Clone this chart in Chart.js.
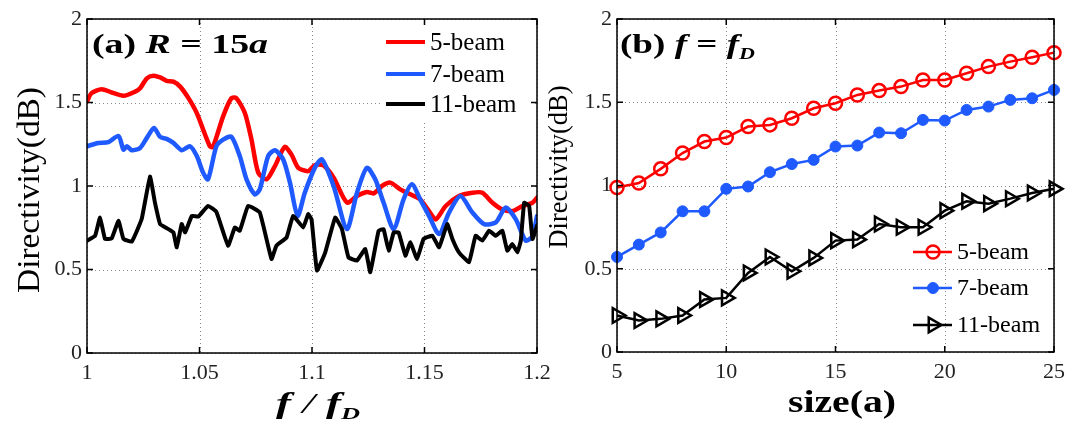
<!DOCTYPE html>
<html>
<head>
<meta charset="utf-8">
<script src="https://cdn.jsdelivr.net/npm/chart.js@4.4.0/dist/chart.umd.min.js"></script>
<style>
  html, body { margin: 0; padding: 0; background: #fff; }
  #wrap { position: relative; width: 1077px; height: 427px; overflow: hidden; }
  canvas { position: absolute; top: 0; }
  #chartA { left: 0; }
  #chartB { left: 545px; }
</style>
</head>
<body>
<div id="wrap">
  <canvas id="chartA" width="560" height="427" style="width:560px;height:427px"></canvas>
  <canvas id="chartB" width="532" height="427" style="width:532px;height:427px"></canvas>
</div>
<script>
// ---- panel (a): directivity vs f/fD, R = 15a ----
const fRed = [1.000, 1.002, 1.0065, 1.011, 1.0162, 1.0214, 1.0236, 1.0266, 1.0295, 1.0325, 1.0354, 1.0384, 1.0414, 1.0451, 1.0488, 1.0546, 1.056, 1.0605, 1.0642, 1.0664, 1.0702, 1.0731, 1.0761, 1.0798, 1.0835, 1.0879, 1.0909, 1.0939, 1.0983, 1.1013, 1.1051, 1.1096, 1.1155, 1.12, 1.1244, 1.1274, 1.1311, 1.1348, 1.1392, 1.1437, 1.1481, 1.152, 1.155, 1.1594, 1.1653, 1.1713, 1.1757, 1.1802, 1.1846, 1.1891, 1.1935, 1.198, 1.2];
const dRed = [1.506, 1.556, 1.58, 1.56, 1.54, 1.565, 1.585, 1.645, 1.66, 1.65, 1.63, 1.625, 1.595, 1.526, 1.436, 1.238, 1.234, 1.417, 1.526, 1.526, 1.436, 1.278, 1.08, 1.04, 1.119, 1.234, 1.188, 1.109, 1.089, 1.125, 1.123, 1.05, 0.901, 0.94, 0.964, 0.956, 1.0, 1.02, 0.98, 0.95, 0.92, 0.85, 0.80, 0.88, 0.94, 0.96, 0.96, 0.90, 0.86, 0.85, 0.88, 0.90, 0.93];

const fBlue = [1.000, 1.005, 1.0095, 1.014, 1.0162, 1.0177, 1.0199, 1.0236, 1.0266, 1.0298, 1.0325, 1.0354, 1.0384, 1.0421, 1.0458, 1.0488, 1.0516, 1.0538, 1.0575, 1.0605, 1.0642, 1.0679, 1.0709, 1.0746, 1.0768, 1.0805, 1.0835, 1.0872, 1.0902, 1.0936, 1.0968, 1.1013, 1.1044, 1.1096, 1.1155, 1.12, 1.1244, 1.1281, 1.1318, 1.1363, 1.1407, 1.1444, 1.1481, 1.152, 1.1565, 1.1609, 1.166, 1.1713, 1.1765, 1.1817, 1.1861, 1.1906, 1.195, 1.198, 1.2];
const dBlue = [1.238, 1.258, 1.262, 1.30, 1.218, 1.238, 1.214, 1.228, 1.288, 1.347, 1.294, 1.282, 1.258, 1.214, 1.238, 1.179, 1.08, 1.04, 1.238, 1.278, 1.294, 1.179, 1.04, 0.95, 0.98, 1.179, 1.214, 1.159, 1.02, 0.821, 0.96, 1.11, 1.159, 1.0, 0.742, 0.96, 1.109, 1.04, 0.901, 0.742, 0.92, 1.01, 0.92, 0.821, 0.712, 0.841, 0.94, 0.841, 0.772, 0.782, 0.871, 0.80, 0.673, 0.70, 0.82];

const fBlack = [1.000, 1.0036, 1.0058, 1.008, 1.011, 1.014, 1.0162, 1.0199, 1.0243, 1.028, 1.0302, 1.0325, 1.0362, 1.0384, 1.0399, 1.0421, 1.0436, 1.0466, 1.0495, 1.0538, 1.0575, 1.0627, 1.0657, 1.0679, 1.0716, 1.0768, 1.082, 1.0842, 1.0887, 1.0916, 1.0961, 1.0983, 1.0998, 1.1022, 1.1059, 1.1103, 1.1133, 1.1162, 1.12, 1.1237, 1.1259, 1.1296, 1.1318, 1.1341, 1.1363, 1.1385, 1.1415, 1.1437, 1.1467, 1.1496, 1.1535, 1.1565, 1.1601, 1.1624, 1.1653, 1.1698, 1.1727, 1.1757, 1.1787, 1.1817, 1.1846, 1.1868, 1.189, 1.1913, 1.1928, 1.1943, 1.1965, 1.198, 1.2];
const dBlack = [0.673, 0.702, 0.811, 0.683, 0.687, 0.792, 0.683, 0.667, 0.802, 1.056, 0.90, 0.772, 0.742, 0.722, 0.633, 0.772, 0.722, 0.821, 0.817, 0.881, 0.845, 0.643, 0.752, 0.732, 0.881, 0.841, 0.563, 0.643, 0.692, 0.821, 0.752, 0.831, 0.80, 0.494, 0.603, 0.811, 0.742, 0.573, 0.554, 0.623, 0.484, 0.732, 0.742, 0.613, 0.722, 0.722, 0.583, 0.663, 0.563, 0.683, 0.702, 0.633, 0.772, 0.683, 0.603, 0.544, 0.702, 0.673, 0.732, 0.702, 0.732, 0.613, 0.653, 0.603, 0.673, 0.90, 0.881, 0.683, 0.762];

// ---- panel (b): directivity vs size at f = fD ----
const sizes = [5, 6, 7, 8, 9, 10, 11, 12, 13, 14, 15, 16, 17, 18, 19, 20, 21, 22, 23, 24, 25];
const size5 = [0.988, 1.015, 1.10, 1.195, 1.264, 1.288, 1.354, 1.364, 1.404, 1.464, 1.494, 1.544, 1.570, 1.594, 1.634, 1.634, 1.674, 1.714, 1.744, 1.77, 1.798];
const size7 = [0.571, 0.645, 0.718, 0.845, 0.845, 0.98, 0.994, 1.08, 1.129, 1.154, 1.234, 1.24, 1.318, 1.314, 1.394, 1.39, 1.454, 1.474, 1.514, 1.524, 1.574];
const size11 = [0.219, 0.189, 0.199, 0.219, 0.315, 0.325, 0.475, 0.571, 0.485, 0.565, 0.669, 0.675, 0.769, 0.749, 0.749, 0.849, 0.905, 0.891, 0.921, 0.955, 0.98];

const seriesNames = ["5-beam", "7-beam", "11-beam"];
const yTicks = [0, 0.5, 1, 1.5, 2];

const RED = "#ff0000";
const BLUE = "rgb(30, 90, 255)";
const BLACK = "#000000";
const serif = '"Liberation Serif", "Times New Roman", serif';

function pts(xs, ys) {
  return xs.map((x, i) => ({ x: x, y: ys[i] }));
}

// draw a row of text pieces, squeezed/stretched to a target width
function fitText(ctx, parts, x, y, width) {
  ctx.save();
  let total = 0;
  for (const p of parts) { ctx.font = p[1]; total += ctx.measureText(p[0]).width; }
  ctx.translate(x, y);
  ctx.scale(width / total, 1);
  ctx.textBaseline = "alphabetic";
  ctx.textAlign = "left";
  let cx = 0;
  for (const p of parts) {
    ctx.font = p[1];
    ctx.fillText(p[0], cx, p[2] || 0);
    cx += ctx.measureText(p[0]).width;
  }
  ctx.restore();
}

function yTitle(ctx, text, cx, cy, len, size) {
  ctx.save();
  ctx.translate(cx, cy);
  ctx.rotate(-Math.PI / 2);
  ctx.fillStyle = "#000";
  ctx.font = size + "px " + serif;
  const w = ctx.measureText(text).width;
  ctx.scale(len / w, 1);
  ctx.textAlign = "center";
  ctx.textBaseline = "middle";
  ctx.fillText(text, 0, 0);
  ctx.restore();
}

// matlab style dotted grid, drawn under the data
const dottedGrid = {
  id: "dottedGrid",
  beforeDatasetsDraw(chart) {
    const { ctx, chartArea: a, scales } = chart;
    ctx.save();
    ctx.strokeStyle = "#8a8a8a";
    ctx.lineWidth = 1;
    ctx.setLineDash([1, 3]);
    ctx.beginPath();
    scales.x.ticks.forEach(tk => {
      const px = Math.round(scales.x.getPixelForValue(tk.value)) + 0.5;
      ctx.moveTo(px, a.top); ctx.lineTo(px, a.bottom);
    });
    scales.y.ticks.forEach(tk => {
      const py = Math.round(scales.y.getPixelForValue(tk.value)) + 0.5;
      ctx.moveTo(a.left, py); ctx.lineTo(a.right, py);
    });
    ctx.stroke();
    ctx.restore();
  }
};

function frame(chart) {
  const { ctx, chartArea: a, scales } = chart;
  ctx.save();
  ctx.setLineDash([]);
  ctx.strokeStyle = "#000";
  ctx.lineWidth = 1.5;
  const t = 6;
  ctx.beginPath();
  scales.x.ticks.forEach(tk => {
    const px = scales.x.getPixelForValue(tk.value);
    ctx.moveTo(px, a.bottom); ctx.lineTo(px, a.bottom - t);
    ctx.moveTo(px, a.top); ctx.lineTo(px, a.top + t);
  });
  scales.y.ticks.forEach(tk => {
    const py = scales.y.getPixelForValue(tk.value);
    ctx.moveTo(a.left, py); ctx.lineTo(a.left + t, py);
    ctx.moveTo(a.right, py); ctx.lineTo(a.right - t, py);
  });
  ctx.stroke();
  ctx.strokeRect(a.left, a.top, a.right - a.left, a.bottom - a.top);
  ctx.restore();
}

const decorA = {
  id: "decorA",
  afterDraw(chart) {
    const ctx = chart.ctx;
    ctx.save();
    // legend, white box without border
    ctx.fillStyle = "#fff";
    ctx.fillRect(381, 24, 153, 96);
    const rows = [42, 74, 104];
    const cols = [RED, BLUE, BLACK];
    rows.forEach((ry, i) => {
      ctx.strokeStyle = cols[i];
      ctx.lineWidth = 4;
      ctx.beginPath(); ctx.moveTo(386, ry); ctx.lineTo(425, ry); ctx.stroke();
      ctx.fillStyle = "#000";
      ctx.font = "25px " + serif;
      ctx.textBaseline = "middle";
      ctx.fillText(seriesNames[i], 430, ry + 1);
    });
    ctx.restore();
    frame(chart);
    ctx.save();
    ctx.fillStyle = "#000";
    // panel label
    fitText(ctx, [
      ["(a) ", "bold 27px " + serif],
      ["R", "bold italic 27px " + serif],
      [" = ", "bold 27px " + serif],
      ["15", "bold 27px " + serif],
      ["a", "bold italic 27px " + serif]
    ], 92, 53, 176);
    // axis titles
    yTitle(ctx, "Directivity(dB)", 31, 190, 206, 32);
    ctx.fillStyle = "#000";
    fitText(ctx, [
      ["f", "bold italic 29px " + serif],
      [" / ", "italic 29px " + serif],
      ["f", "bold italic 29px " + serif],
      ["D", "bold italic 17px " + serif, 6]
    ], 276, 413, 84);
    ctx.restore();
  }
};

const decorB = {
  id: "decorB",
  afterDraw(chart) {
    const ctx = chart.ctx;
    frame(chart);
    ctx.save();
    ctx.fillStyle = "#000";
    // canvas B starts at page x = 545
    const ox = -545;
    fitText(ctx, [
      ["(b) ", "bold 27px " + serif],
      ["f", "bold italic 27px " + serif],
      [" = ", "bold 27px " + serif],
      ["f", "bold italic 27px " + serif],
      ["D", "bold italic 16px " + serif, 6]
    ], 620 + ox, 53, 135);
    // legend
    const rows = [252, 288, 325];
    chart.data.datasets.forEach((ds, i) => {
      const ry = rows[i];
      ctx.strokeStyle = ds.borderColor;
      ctx.lineWidth = ds.borderWidth;
      ctx.beginPath(); ctx.moveTo(913 + ox, ry); ctx.lineTo(952 + ox, ry); ctx.stroke();
      ctx.fillStyle = ds.pointBackgroundColor;
      ctx.lineWidth = ds.pointBorderWidth;
      Chart.helpers.drawPoint(ctx, {
        pointStyle: ds.pointStyle, radius: ds.pointRadius,
        rotation: ds.pointRotation || 0, borderWidth: ds.pointBorderWidth
      }, 933 + ox, ry);
      ctx.fillStyle = "#000";
      ctx.font = "24px " + serif;
      ctx.textBaseline = "middle";
      ctx.fillText(ds.label, 957 + ox, ry + 1);
    });
    yTitle(ctx, "Directivity(dB)", 560 + ox, 167, 163, 27);
    ctx.fillStyle = "#000";
    fitText(ctx, [["size(a)", "bold 31px " + serif]], 788 + ox, 412, 108);
    ctx.restore();
  }
};

function axisY(width) {
  return {
    type: "linear", min: 0, max: 2,
    afterBuildTicks: s => { s.ticks = yTicks.map(v => ({ value: v })); },
    afterFit: s => { s.width = width; },
    ticks: { font: { family: serif, size: 22 }, color: "#222", padding: 5,
      callback: v => String(v) },
    grid: { display: false, drawTicks: false },
    border: { display: false }
  };
}

const lineBase = { pointRadius: 0, fill: false, borderJoinStyle: "round", borderCapStyle: "round" };

new Chart(document.getElementById("chartA"), {
  type: "line",
  data: {
    datasets: [
      Object.assign({ label: seriesNames[0], data: pts(fRed, dRed), borderColor: RED, borderWidth: 4.5, tension: 0.25, order: 3 }, lineBase),
      Object.assign({ label: seriesNames[1], data: pts(fBlue, dBlue), borderColor: BLUE, borderWidth: 4.5, tension: 0.25, order: 2 }, lineBase),
      Object.assign({ label: seriesNames[2], data: pts(fBlack, dBlack), borderColor: BLACK, borderWidth: 4, tension: 0.1, order: 1 }, lineBase)
    ]
  },
  options: {
    responsive: false, animation: false,
    layout: { padding: { top: 19, right: 23, left: 0, bottom: 0 } },
    plugins: { legend: { display: false }, tooltip: { enabled: false } },
    scales: {
      x: {
        type: "linear", min: 1, max: 1.2,
        afterFit: s => { s.height = 74; },
        ticks: { stepSize: 0.05, font: { family: serif, size: 22 }, color: "#222", padding: 7,
          maxRotation: 0, callback: v => String(+v.toFixed(2)) },
        grid: { display: false, drawTicks: false },
        border: { display: false }
      },
      y: axisY(87)
    }
  },
  plugins: [dottedGrid, decorA]
});

new Chart(document.getElementById("chartB"), {
  type: "line",
  data: {
    datasets: [
      { label: seriesNames[0], data: pts(sizes, size5), borderColor: RED, borderWidth: 2.5,
        pointStyle: "circle", pointRadius: 6.5, pointBorderWidth: 2.5, pointBorderColor: RED,
        pointBackgroundColor: "rgba(255,255,255,0)", order: 3, clip: 12 },
      { label: seriesNames[1], data: pts(sizes, size7), borderColor: BLUE, borderWidth: 2.5,
        pointStyle: "circle", pointRadius: 5.5, pointBorderWidth: 1, pointBorderColor: BLUE,
        pointBackgroundColor: BLUE, order: 2, clip: 12 },
      { label: seriesNames[2], data: pts(sizes, size11), borderColor: BLACK, borderWidth: 2.5,
        pointStyle: "triangle", pointRotation: 90, pointRadius: 8.5, pointBorderWidth: 2.5, pointBorderColor: BLACK,
        pointBackgroundColor: "rgba(255,255,255,0)", order: 1, clip: 12 }
    ]
  },
  options: {
    responsive: false, animation: false,
    layout: { padding: { top: 19, right: 23, left: 0, bottom: 0 } },
    plugins: { legend: { display: false }, tooltip: { enabled: false } },
    scales: {
      x: {
        type: "linear", min: 5, max: 25,
        afterFit: s => { s.height = 75; },
        ticks: { stepSize: 5, font: { family: serif, size: 22 }, color: "#222", padding: 7, maxRotation: 0 },
        grid: { display: false, drawTicks: false },
        border: { display: false }
      },
      y: axisY(72)
    }
  },
  plugins: [dottedGrid, decorB]
});
</script>
</body>
</html>
